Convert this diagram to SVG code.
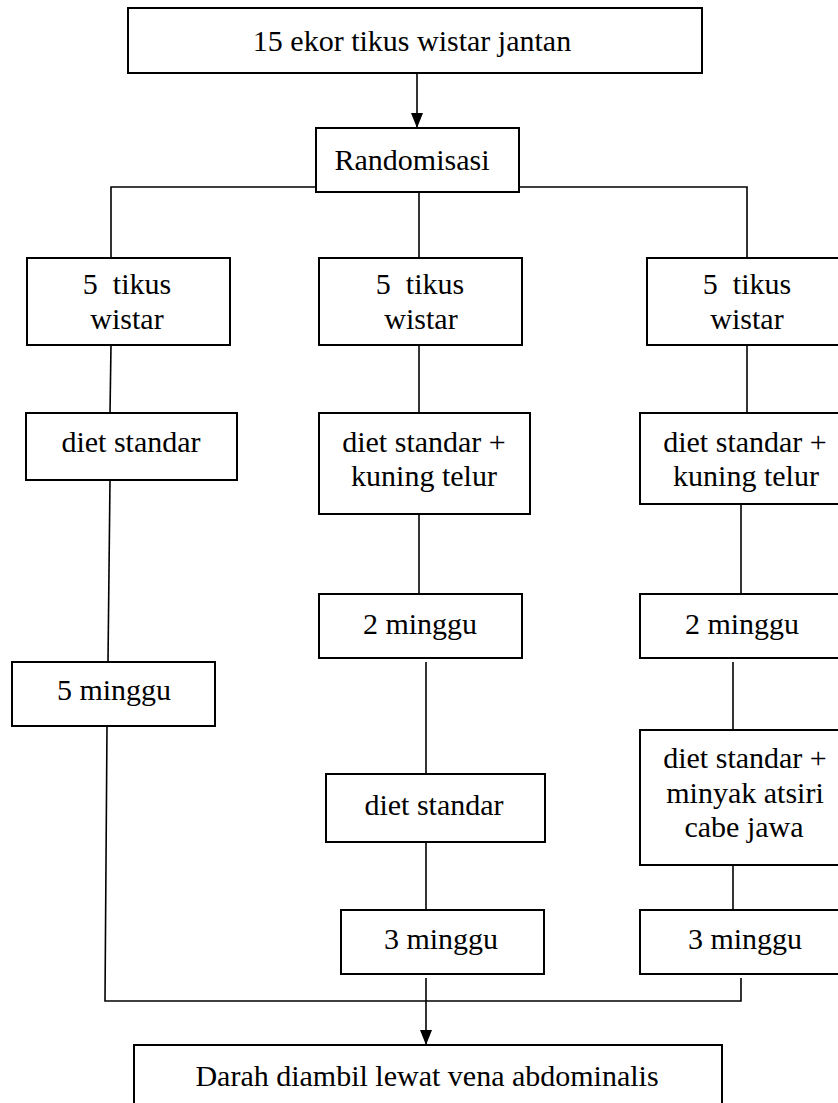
<svg xmlns="http://www.w3.org/2000/svg" width="838" height="1103" viewBox="0 0 838 1103">
<style>
.box{fill:#fff;stroke:#000;stroke-width:2}
.ln{fill:none;stroke:#000;stroke-width:1.6}
text{font-family:"Liberation Serif","Tinos","DejaVu Serif","Times New Roman",Times,serif;font-size:30px;fill:#000;text-anchor:middle;white-space:pre}
</style>
<rect width="838" height="1103" fill="#fff"/>
<g id="connectors">
<line class="ln" x1="417" y1="73" x2="417" y2="127"/>
<path d="M411,113 L423,113 L417,128 Z" fill="#000"/>
<polyline class="ln" points="111,258 111,187 747,187 747,258"/>
<line class="ln" x1="419" y1="192" x2="419" y2="258"/>
<line class="ln" x1="111" y1="345" x2="110" y2="413"/>
<line class="ln" x1="419" y1="345" x2="419" y2="413"/>
<line class="ln" x1="747" y1="345" x2="747" y2="413"/>
<line class="ln" x1="110" y1="480" x2="108" y2="662"/>
<line class="ln" x1="419" y1="503" x2="419" y2="594"/>
<line class="ln" x1="741" y1="504" x2="741" y2="594"/>
<line class="ln" x1="426" y1="662" x2="426" y2="774"/>
<line class="ln" x1="733" y1="662" x2="733" y2="730"/>
<line class="ln" x1="426" y1="842" x2="426" y2="910"/>
<line class="ln" x1="733" y1="865" x2="733" y2="910"/>
<polyline class="ln" points="107,726 105,1001 741,1001 741,978"/>
<line class="ln" x1="426" y1="978" x2="426" y2="1044"/>
<path d="M420,1030 L432,1030 L426,1045 Z" fill="#000"/>
</g>
<g id="n-top"><rect class="box" x="128" y="8" width="574" height="65"/><text x="412" y="51">15 ekor tikus wistar jantan</text></g>
<g id="n-rand"><rect class="box" x="316" y="128" width="203" height="64"/><text x="412" y="170">Randomisasi</text></g>
<g id="n-t1"><rect class="box" x="27" y="258" width="203" height="87"/><text x="127" y="294" xml:space="preserve">5  tikus</text><text x="127" y="329">wistar</text></g>
<g id="n-t2"><rect class="box" x="319" y="258" width="203" height="87"/><text x="420" y="294" xml:space="preserve">5  tikus</text><text x="421" y="329">wistar</text></g>
<g id="n-t3"><rect class="box" x="647" y="258" width="200" height="87"/><text x="747" y="294" xml:space="preserve">5  tikus</text><text x="747" y="329">wistar</text></g>
<g id="n-d1"><rect class="box" x="26" y="413" width="211" height="67"/><text x="131" y="452">diet standar</text></g>
<g id="n-d2"><rect class="box" x="319" y="413" width="211" height="101"/><text x="424" y="452">diet standar +</text><text x="424" y="486">kuning telur</text></g>
<g id="n-d3"><rect class="box" x="640" y="413" width="207" height="91"/><text x="745" y="452">diet standar +</text><text x="746" y="486">kuning telur</text></g>
<g id="n-m2a"><rect class="box" x="319" y="594" width="203" height="64"/><text x="420" y="634">2 minggu</text></g>
<g id="n-m2b"><rect class="box" x="640" y="594" width="207" height="64"/><text x="742" y="634">2 minggu</text></g>
<g id="n-m5"><rect class="box" x="12" y="662" width="203" height="64"/><text x="114" y="700">5 minggu</text></g>
<g id="n-ds"><rect class="box" x="326" y="774" width="219" height="68"/><text x="434" y="815">diet standar</text></g>
<g id="n-ma"><rect class="box" x="640" y="730" width="207" height="135"/><text x="745" y="768">diet standar +</text><text x="745" y="803">minyak atsiri</text><text x="744" y="837">cabe jawa</text></g>
<g id="n-m3a"><rect class="box" x="341" y="910" width="203" height="64"/><text x="441" y="949">3 minggu</text></g>
<g id="n-m3b"><rect class="box" x="640" y="910" width="207" height="64"/><text x="745" y="949">3 minggu</text></g>
<g id="n-end"><rect class="box" x="134" y="1045" width="588" height="70"/><text x="427" y="1086">Darah diambil lewat vena abdominalis</text></g>
</svg>
